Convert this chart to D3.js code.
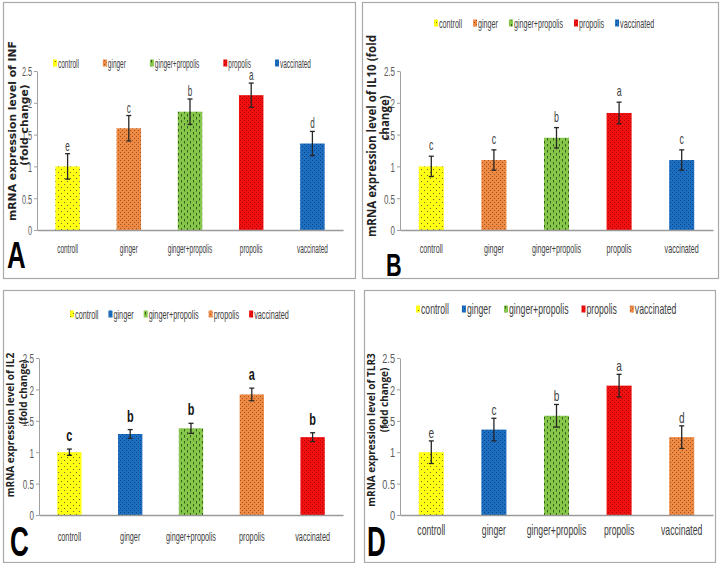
<!DOCTYPE html>
<html><head><meta charset="utf-8">
<script src="https://cdn.jsdelivr.net/npm/d3@7"></script>
<style>body{margin:0;background:#fff} svg{display:block}</style>
</head><body><svg id="chart" width="722" height="563"></svg>
<script>
// ---------------- data ----------------
const categories = ["controll", "ginger", "ginger+propolis", "propolis", "vaccinated"];
const yTicks = [0, 0.5, 1, 1.5, 2, 2.5];
const yTickLabels = ["0", "0.5", "1", "1.5", "2", "2.5"];

const infValues = [1.0, 1.6, 1.86, 2.12, 1.36];
const infErrors = [0.2, 0.2, 0.2, 0.19, 0.19];
const infLetters = ["e", "c", "b", "a", "d"];

const il10Values = [1.0, 1.1, 1.45, 1.84, 1.1];
const il10Errors = [0.16, 0.16, 0.16, 0.17, 0.16];
const il10Letters = ["c", "c", "b", "a", "c"];

const il2Values = [1.0, 1.29, 1.38, 1.92, 1.24];
const il2Errors = [0.05, 0.07, 0.08, 0.1, 0.07];
const il2Letters = ["c", "b", "b", "a", "b"];

const tlr3Values = [1.0, 1.36, 1.58, 2.06, 1.24];
const tlr3Errors = [0.18, 0.18, 0.18, 0.18, 0.18];
const tlr3Letters = ["e", "c", "b", "a", "d"];

const panelLabels = ["A", "B", "C", "D"];
const yTitleLines = [
  ["mRNA expression level of INF", "(fold change)"],
  ["mRNA expression level of IL10 (fold", "change)"],
  ["mRNA expression level of IL2", "(fold change)"],
  ["mRNA expression level of TLR3", "(fold change)"]
];

// ---------------- styles ----------------
const svg = d3.select("#chart");
const defs = svg.append("defs");
const SANS = "'Liberation Sans', Arial, sans-serif";

function pattern(id, w, h, bg, dots) {
  const p = defs.append("pattern").attr("id", id).attr("patternUnits", "userSpaceOnUse")
    .attr("width", w).attr("height", h);
  p.append("rect").attr("width", w).attr("height", h).attr("fill", bg);
  dots.forEach(d => {
    p.append("rect").attr("x", d[0]).attr("y", d[1]).attr("width", d[2]).attr("height", d[3]).attr("fill", d[4]);
  });
}
pattern("pY", 6, 6, "#ffff14", [[1, 1, 1, 1, "#6d6d30"], [4, 4, 1, 1, "#6d6d30"]]);
pattern("pO", 4, 4, "#ef8a45", [[0, 0, 1, 1, "#9a5424"], [2, 2, 1, 1, "#9a5424"]]);
pattern("pG", 6, 6, "#86c64a", [[1, 0, 1, 2.5, "#355f18"], [4, 3, 1, 2.5, "#355f18"]]);
pattern("pR", 4, 4, "#f01010", [[0, 0, 1, 1, "#a80000"], [2, 2, 1, 1, "#a80000"]]);
pattern("pB", 4, 4, "#1c6ec0", [[0, 0, 1, 1, "#0e4282"], [2, 2, 1, 1, "#0e4282"]]);
const fills = { Y: "url(#pY)", O: "url(#pO)", G: "url(#pG)", R: "url(#pR)", B: "url(#pB)" };

const panels = [
  { values: infValues, errors: infErrors, letters: infLetters, label: panelLabels[0], title: yTitleLines[0],
    colors: ["Y", "O", "G", "R", "B"], frame: [3, 2, 352, 276], x0: 37, x1: 343, yb: 230, yt: 71,
    sx: 0.48, fs: 13.5, legY: 63, legX: 53, legGap: 24, xLabY: 253, letOff: 3, letBold: false, letFs: 14,
    titleFont: "'DejaVu Sans', sans-serif", titleFs: 10.8, titleX: [12, 24], titleC: [131, 125],
    bigX: 7, bigY: 268, bigFs: 37, bigSx: 0.7 },
  { values: il10Values, errors: il10Errors, letters: il10Letters, label: panelLabels[1], title: yTitleLines[1],
    colors: ["Y", "O", "G", "R", "B"], frame: [362, 2, 356, 276], x0: 400, x1: 713, yb: 230, yt: 71,
    sx: 0.53, fs: 13.5, legY: 23, legX: 434, legGap: 11, xLabY: 253, letOff: 6, letBold: false, letFs: 14,
    titleFont: "'Open Sans', sans-serif", titleFs: 11.5, titleX: [371, 384], titleC: [136, 118],
    bigX: 386, bigY: 276, bigFs: 31, bigSx: 0.7 },
  { values: il2Values, errors: il2Errors, letters: il2Letters, label: panelLabels[2], title: yTitleLines[2],
    colors: ["Y", "B", "G", "O", "R"], frame: [3, 290, 351, 272], x0: 39, x1: 343, yb: 515, yt: 358,
    sx: 0.54, fs: 13.5, legY: 314, legX: 70, legGap: 10, xLabY: 541, letOff: 8, letBold: true, letFs: 17,
    titleFont: "'Open Sans', sans-serif", titleFs: 10, titleX: [10, 23], titleC: [425, 392],
    bigX: 10, bigY: 556, bigFs: 42, bigSx: 0.62 },
  { values: tlr3Values, errors: tlr3Errors, letters: tlr3Letters, label: panelLabels[3], title: yTitleLines[3],
    colors: ["Y", "B", "G", "R", "O"], frame: [364, 290, 351, 272], x0: 400, x1: 713, yb: 515, yt: 358,
    sx: 0.62, fs: 14, legY: 309, legX: 416, legGap: 13, xLabY: 535, letOff: 3, letBold: false, letFs: 14,
    titleFont: "'Open Sans', sans-serif", titleFs: 10, titleX: [371, 384], titleC: [430, 400],
    bigX: 367, bigY: 556, bigFs: 42, bigSx: 0.62 }
];

function sText(parent, x, y, str, sx, opts) {
  return parent.append("text")
    .attr("transform", `translate(${x},${y}) scale(${sx},1)`)
    .attr("font-family", opts.family || SANS)
    .attr("font-size", opts.size || 12)
    .attr("font-weight", opts.weight || "normal")
    .attr("fill", opts.fill || "#404040")
    .attr("text-anchor", opts.anchor || "start")
    .attr("dominant-baseline", opts.baseline || "auto")
    .text(str);
}

panels.forEach(cfg => {
  const g = svg.append("g");
  g.append("rect").attr("x", cfg.frame[0] + 0.5).attr("y", cfg.frame[1] + 0.5)
    .attr("width", cfg.frame[2]).attr("height", cfg.frame[3])
    .attr("fill", "none").attr("stroke", "#a9a9a9").attr("stroke-width", 1.2);

  const x = d3.scaleBand().domain(categories).range([cfg.x0, cfg.x1]).paddingInner(0.6).paddingOuter(0.3);
  const y = d3.scaleLinear().domain([0, 2.5]).range([cfg.yb, cfg.yt]);

  // y axis
  const ya = g.append("g").attr("transform", `translate(${cfg.x0},0)`)
    .call(d3.axisLeft(y).tickValues(yTicks).tickFormat((d, i) => yTickLabels[i]).tickSize(3).tickSizeOuter(0));
  ya.select(".domain").attr("stroke", "#a0a0a0");
  ya.selectAll(".tick line").attr("stroke", "#a0a0a0");
  ya.selectAll(".tick text").remove();
  ya.selectAll(".tick").each(function (d, i) {
    sText(d3.select(this), -5, 0, yTickLabels[i], cfg.sx + 0.06, { size: 13.5, anchor: "end", baseline: "central", fill: "#595959" });
  });

  // bars
  const data = categories.map((c, i) => ({ c, v: cfg.values[i], e: cfg.errors[i], l: cfg.letters[i], col: cfg.colors[i] }));
  g.selectAll("rect.bar").data(data).join("rect").attr("class", "bar")
    .attr("x", d => x(d.c)).attr("width", x.bandwidth())
    .attr("y", d => y(d.v)).attr("height", d => y(0) - y(d.v))
    .attr("fill", d => fills[d.col]);

  // x axis
  const xa = g.append("g").attr("transform", `translate(0,${cfg.yb})`)
    .call(d3.axisBottom(x).tickSize(0).tickSizeOuter(0));
  xa.select(".domain").attr("stroke", "#9a9a9a").attr("stroke-width", 1.5);
  xa.selectAll(".tick text").remove();
  xa.selectAll(".tick").each(function (d) {
    sText(d3.select(this), 0, cfg.xLabY - cfg.yb, d, cfg.sx, { size: cfg.fs, anchor: "middle" });
  });

  // error bars
  const cx = d => x(d.c) + x.bandwidth() / 2;
  const eg = g.selectAll("g.err").data(data).join("g").attr("class", "err")
    .attr("stroke", "#262626").attr("stroke-width", 1.3);
  eg.append("line").attr("x1", cx).attr("x2", cx).attr("y1", d => y(d.v + d.e)).attr("y2", d => y(d.v - d.e));
  eg.append("line").attr("x1", d => cx(d) - 2.5).attr("x2", d => cx(d) + 2.5).attr("y1", d => y(d.v + d.e)).attr("y2", d => y(d.v + d.e));
  eg.append("line").attr("x1", d => cx(d) - 2.5).attr("x2", d => cx(d) + 2.5).attr("y1", d => y(d.v - d.e)).attr("y2", d => y(d.v - d.e));

  // significance letters
  data.forEach(d => {
    sText(g, cx(d), y(d.v + d.e) - cfg.letOff, d.l, cfg.sx + 0.1, {
      size: cfg.letFs, anchor: "middle", weight: cfg.letBold ? "bold" : "normal",
      fill: cfg.letBold ? "#111" : "#404040"
    });
  });

  // legend
  let lx = cfg.legX;
  data.forEach(d => {
    g.append("rect").attr("x", lx).attr("y", cfg.legY - 3.5).attr("width", 4).attr("height", 7).attr("fill", fills[d.col]);
    const t = sText(g, lx + 5, cfg.legY, d.c, cfg.sx, { size: cfg.fs, baseline: "central" });
    lx += 5 + t.node().getComputedTextLength() * cfg.sx + cfg.legGap;
  });

  // y title
  cfg.title.forEach((line, i) => {
    g.append("text")
      .attr("transform", `translate(${cfg.titleX[i]},${cfg.titleC[i]}) rotate(-90)`)
      .attr("font-family", cfg.titleFont).attr("font-size", cfg.titleFs).attr("font-weight", "bold")
      .attr("fill", "#222").attr("text-anchor", "middle").attr("dominant-baseline", "central")
      .text(line);
  });

  // panel letter
  sText(g, cfg.bigX, cfg.bigY, cfg.label, cfg.bigSx, { size: cfg.bigFs, weight: "bold", fill: "#000" });
});
</script>
</body></html>
